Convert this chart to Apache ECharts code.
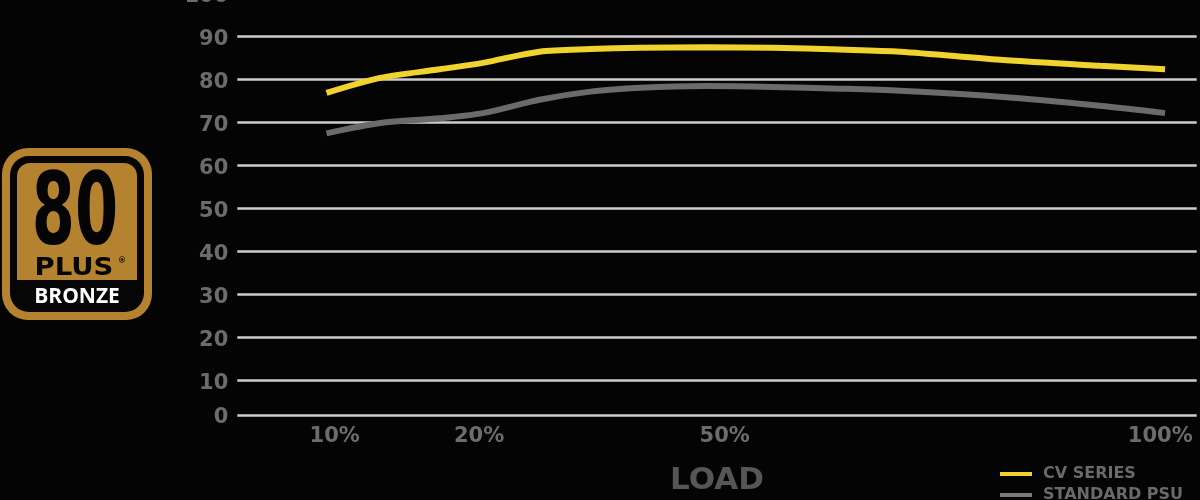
<!DOCTYPE html>
<html>
<head>
<meta charset="utf-8">
<style>
  html, body { margin: 0; padding: 0; background: #040404; }
  #chart { width: 1200px; height: 500px; }
</style>
<script src="https://cdn.jsdelivr.net/npm/echarts@6/dist/echarts.min.js"></script>
</head>
<body>
<div id="chart"></div>
<script>
// ---- data ----
// x: position along the (illustrative, non-linear) LOAD axis, 0..100
var loadPos = [9.3, 14.9, 21.1, 25.6, 31.5, 36.8, 42.0, 48.9, 55.8, 62.8, 69.1, 79.5, 89.9, 96.7];
var cvSeries = [76.9, 80.4, 82.4, 83.9, 86.5, 87.1, 87.4, 87.5, 87.4, 87.0, 86.5, 84.6, 83.2, 82.4];
var standardPsu = [67.5, 69.9, 71.0, 72.2, 75.3, 77.2, 78.1, 78.5, 78.3, 77.9, 77.4, 76.0, 73.9, 72.2];
var seriesNames = ['CV SERIES', 'STANDARD PSU'];

// x tick labels and where they sit on the load axis
var xTickLabels = ['10%', '20%', '50%', '100%'];
var xTickPos = [10.15, 25.2, 50.8, 96.2];

// y tick labels; the bottom "0" baseline sits at axis floor
var yTickLabels = ['0', '10', '20', '30', '40', '50', '60', '70', '80', '90', '100'];
var yTickAt = [2, 10, 20, 30, 40, 50, 60, 70, 80, 90, 100];

function pairs(xs, ys) { return xs.map(function (x, i) { return [x, ys[i]]; }); }

var gold = '#b5832f';
var labelFont = { color: '#6c6c6c', fontSize: 21, fontWeight: 'bold', fontFamily: 'DejaVu Sans' };
var chart = echarts.init(document.getElementById('chart'));
chart.setOption({
  backgroundColor: '#040404',
  animation: false,
  grid: { left: 237.3, right: 3.3, top: -10.7, bottom: 85, containLabel: false, outerBoundsMode: 'none' },
  xAxis: {
    type: 'value', min: 0, max: 100,
    axisLine: { show: false }, axisTick: { show: false, customValues: xTickPos }, splitLine: { show: false },
    axisLabel: Object.assign({
      customValues: xTickPos, hideOverlap: false, margin: 11,
      formatter: function (v) { var i = xTickPos.indexOf(v); return i >= 0 ? xTickLabels[i] : ''; }
    }, labelFont),
    name: 'LOAD', nameLocation: 'middle', nameGap: 50,
    nameTextStyle: { color: '#565656', fontSize: 31, fontWeight: 'bold', fontFamily: 'DejaVu Sans' }
  },
  yAxis: {
    type: 'value', min: 2, max: 101,
    axisLine: { show: false },
    axisTick: { show: false, customValues: yTickAt },
    axisLabel: Object.assign({
      customValues: yTickAt, showMaxLabel: true, showMinLabel: true, hideOverlap: false, margin: 9,
      formatter: function (v) { var i = yTickAt.indexOf(v); return i >= 0 ? '{t|' + yTickLabels[i] + '}' : ''; },
      rich: { t: Object.assign({ padding: [5, 0, 0, 0] }, labelFont) }
    }, labelFont),
    splitLine: { show: true, lineStyle: { color: '#cdcdcd', width: 2.5 } }
  },
  legend: {
    orient: 'vertical', left: 1000, top: 466, height: 60, padding: 0, itemGap: 5,
    icon: 'rect', itemWidth: 32, itemHeight: 4,
    textStyle: { color: '#6a6a6a', fontSize: 16, fontWeight: 'bold', fontFamily: 'DejaVu Sans', padding: [0, 0, 0, 6] },
    data: seriesNames
  },
  series: [
    {
      name: seriesNames[0], type: 'line', smooth: 0.3, showSymbol: false,
      data: pairs(loadPos, cvSeries),
      lineStyle: { color: '#f1d32f', width: 6 }, itemStyle: { color: '#f1d32f' }
    },
    {
      name: seriesNames[1], type: 'line', smooth: 0.3, showSymbol: false,
      data: pairs(loadPos, standardPsu),
      lineStyle: { color: '#6b6b6b', width: 6 }, itemStyle: { color: '#7a7a7a' }
    }
  ],
  graphic: [
    { type: 'rect', shape: { x: 2, y: 148, width: 150, height: 172, r: 26 }, style: { fill: gold } },
    { type: 'rect', shape: { x: 10, y: 156, width: 134, height: 156, r: 19 }, style: { fill: '#060606' } },
    { type: 'rect', shape: { x: 17, y: 163, width: 120, height: 117, r: [13, 13, 0, 0] }, style: { fill: gold } },
    { type: 'text', x: 75, y: 218, scaleX: 0.62,
      style: { text: '80', align: 'center', verticalAlign: 'middle', fill: '#050505', font: 'bold 100px "DejaVu Sans"' } },
    { type: 'text', x: 74, y: 268, scaleX: 1.1,
      style: { text: 'PLUS', align: 'center', verticalAlign: 'middle', fill: '#050505', font: 'bold 25px "DejaVu Sans"' } },
    { type: 'text', x: 122, y: 261,
      style: { text: '®', align: 'center', verticalAlign: 'middle', fill: '#050505', font: 'bold 8px "DejaVu Sans"' } },
    { type: 'text', x: 77, y: 297,
      style: { text: 'BRONZE', align: 'center', verticalAlign: 'middle', fill: '#ffffff', font: 'bold 21px "Open Sans"' } }
  ]
});
</script>
</body>
</html>
